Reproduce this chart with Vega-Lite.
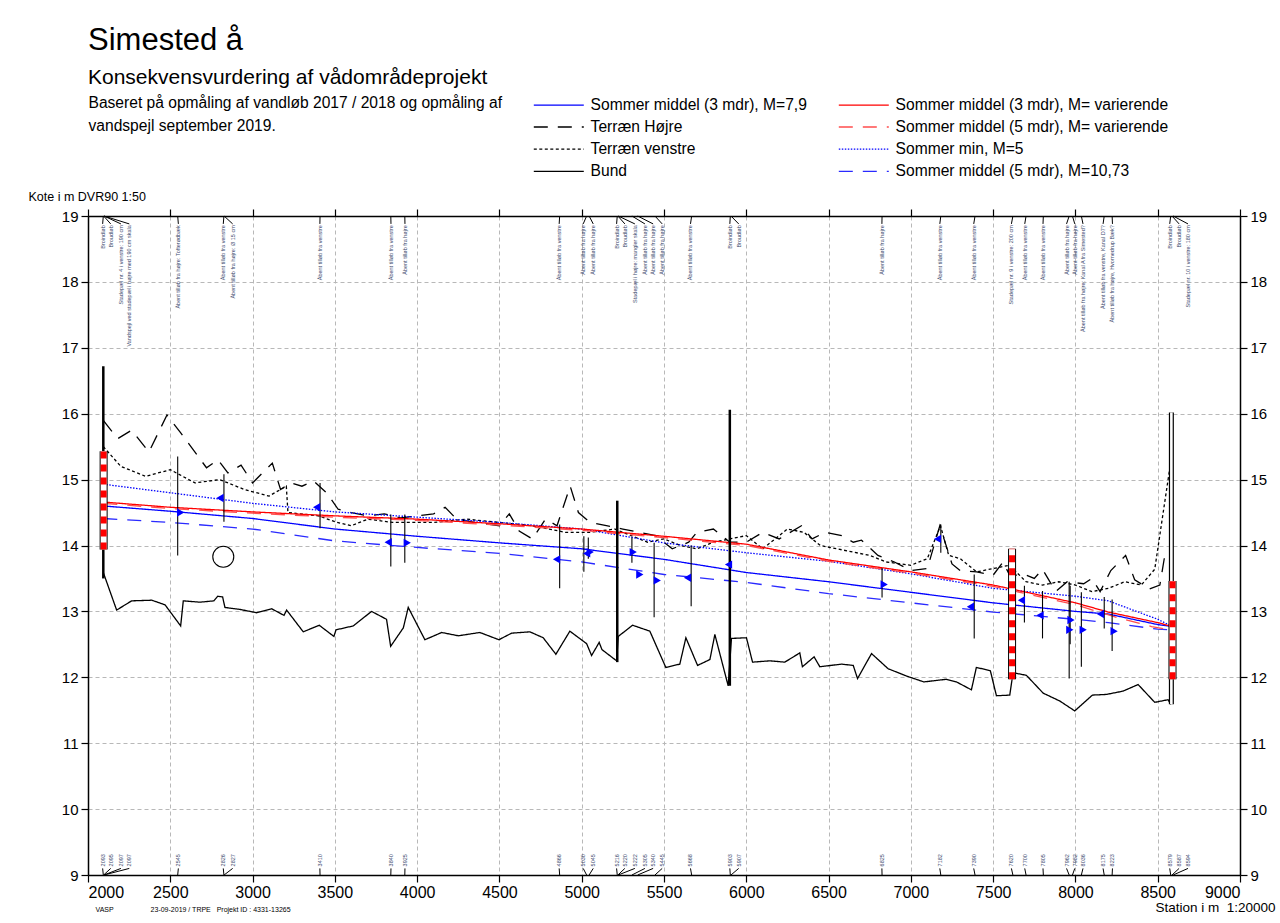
{
  "$schema": "https://vega.github.io/schema/vega-lite/v6.json",
  "width": 1152,
  "height": 659,
  "autosize": {"type": "none"},
  "padding": {"left": 88, "top": 216, "right": 40, "bottom": 48},
  "background": "white",
  "config": {
    "font": "Liberation Sans",
    "view": {"stroke": null},
    "axis": {"labelFont": "Liberation Sans", "titleFont": "Liberation Sans", "labelColor": "black", "titleColor": "black", "titleFontWeight": "normal"}
  },
  "title": {
    "text": "Simested å",
    "subtitle": "Konsekvensvurdering af vådområdeprojekt",
    "anchor": "start",
    "frame": "group",
    "fontSize": 31,
    "fontWeight": "normal",
    "color": "black",
    "subtitleFontSize": 21,
    "subtitleColor": "black",
    "subtitlePadding": 10,
    "offset": 6
  },
  "datasets": {
    "lines": [
      {"s": "Bund", "x": 2093, "y": 13.59}, {"s": "Bund", "x": 2174, "y": 13.02}, {"s": "Bund", "x": 2265, "y": 13.16}, {"s": "Bund", "x": 2387, "y": 13.17}, {"s": "Bund", "x": 2468, "y": 13.10}, {"s": "Bund", "x": 2563, "y": 12.78}, {"s": "Bund", "x": 2579, "y": 13.16}, {"s": "Bund", "x": 2680, "y": 13.14}, {"s": "Bund", "x": 2765, "y": 13.16}, {"s": "Bund", "x": 2788, "y": 13.23}, {"s": "Bund", "x": 2818, "y": 13.22}, {"s": "Bund", "x": 2832, "y": 13.06}, {"s": "Bund", "x": 2923, "y": 13.03}, {"s": "Bund", "x": 3025, "y": 12.98}, {"s": "Bund", "x": 3116, "y": 13.04}, {"s": "Bund", "x": 3191, "y": 12.94}, {"s": "Bund", "x": 3207, "y": 13.02}, {"s": "Bund", "x": 3308, "y": 12.69}, {"s": "Bund", "x": 3405, "y": 12.79}, {"s": "Bund", "x": 3494, "y": 12.62}, {"s": "Bund", "x": 3507, "y": 12.72}, {"s": "Bund", "x": 3612, "y": 12.78}, {"s": "Bund", "x": 3723, "y": 13.0}, {"s": "Bund", "x": 3814, "y": 12.88}, {"s": "Bund", "x": 3839, "y": 12.47}, {"s": "Bund", "x": 3916, "y": 12.75}, {"s": "Bund", "x": 3946, "y": 13.06}, {"s": "Bund", "x": 4047, "y": 12.57}, {"s": "Bund", "x": 4149, "y": 12.68}, {"s": "Bund", "x": 4250, "y": 12.63}, {"s": "Bund", "x": 4381, "y": 12.68}, {"s": "Bund", "x": 4497, "y": 12.57}, {"s": "Bund", "x": 4574, "y": 12.67}, {"s": "Bund", "x": 4685, "y": 12.69}, {"s": "Bund", "x": 4766, "y": 12.60}, {"s": "Bund", "x": 4843, "y": 12.35}, {"s": "Bund", "x": 4928, "y": 12.70}, {"s": "Bund", "x": 5030, "y": 12.51}, {"s": "Bund", "x": 5060, "y": 12.33}, {"s": "Bund", "x": 5106, "y": 12.53}, {"s": "Bund", "x": 5123, "y": 12.42}, {"s": "Bund", "x": 5212, "y": 12.25}, {"s": "Bund", "x": 5222, "y": 12.62}, {"s": "Bund", "x": 5309, "y": 12.79}, {"s": "Bund", "x": 5414, "y": 12.70}, {"s": "Bund", "x": 5511, "y": 12.15}, {"s": "Bund", "x": 5596, "y": 12.20}, {"s": "Bund", "x": 5633, "y": 12.60}, {"s": "Bund", "x": 5704, "y": 12.18}, {"s": "Bund", "x": 5779, "y": 12.27}, {"s": "Bund", "x": 5809, "y": 12.65}, {"s": "Bund", "x": 5890, "y": 11.87}, {"s": "Bund", "x": 5910, "y": 12.59}, {"s": "Bund", "x": 6001, "y": 12.60}, {"s": "Bund", "x": 6038, "y": 12.23}, {"s": "Bund", "x": 6143, "y": 12.25}, {"s": "Bund", "x": 6234, "y": 12.23}, {"s": "Bund", "x": 6325, "y": 12.37}, {"s": "Bund", "x": 6341, "y": 12.16}, {"s": "Bund", "x": 6412, "y": 12.31}, {"s": "Bund", "x": 6447, "y": 12.16}, {"s": "Bund", "x": 6579, "y": 12.20}, {"s": "Bund", "x": 6650, "y": 12.18}, {"s": "Bund", "x": 6676, "y": 11.98}, {"s": "Bund", "x": 6761, "y": 12.36}, {"s": "Bund", "x": 6862, "y": 12.13}, {"s": "Bund", "x": 6973, "y": 12.02}, {"s": "Bund", "x": 7079, "y": 11.93}, {"s": "Bund", "x": 7216, "y": 11.97}, {"s": "Bund", "x": 7277, "y": 11.93}, {"s": "Bund", "x": 7368, "y": 11.81}, {"s": "Bund", "x": 7398, "y": 12.15}, {"s": "Bund", "x": 7483, "y": 12.10}, {"s": "Bund", "x": 7520, "y": 11.72}, {"s": "Bund", "x": 7601, "y": 11.73}, {"s": "Bund", "x": 7621, "y": 12.07}, {"s": "Bund", "x": 7702, "y": 12.03}, {"s": "Bund", "x": 7804, "y": 11.76}, {"s": "Bund", "x": 7905, "y": 11.64}, {"s": "Bund", "x": 7996, "y": 11.49}, {"s": "Bund", "x": 8103, "y": 11.73}, {"s": "Bund", "x": 8188, "y": 11.74}, {"s": "Bund", "x": 8289, "y": 11.79}, {"s": "Bund", "x": 8381, "y": 11.89}, {"s": "Bund", "x": 8482, "y": 11.62}, {"s": "Bund", "x": 8563, "y": 11.66}, {"s": "Bund", "x": 8579, "y": 11.59},

      {"s": "Terræn Højre", "x": 2093, "y": 15.9}, {"s": "Terræn Højre", "x": 2180, "y": 15.62}, {"s": "Terræn Højre", "x": 2265, "y": 15.75}, {"s": "Terræn Højre", "x": 2370, "y": 15.42}, {"s": "Terræn Højre", "x": 2480, "y": 15.98}, {"s": "Terræn Højre", "x": 2560, "y": 15.72}, {"s": "Terræn Højre", "x": 2640, "y": 15.45}, {"s": "Terræn Højre", "x": 2720, "y": 15.18}, {"s": "Terræn Højre", "x": 2790, "y": 15.3}, {"s": "Terræn Højre", "x": 2850, "y": 15.1}, {"s": "Terræn Højre", "x": 2930, "y": 15.22}, {"s": "Terræn Højre", "x": 3000, "y": 14.95}, {"s": "Terræn Højre", "x": 3120, "y": 15.25}, {"s": "Terræn Højre", "x": 3170, "y": 14.85}, {"s": "Terræn Højre", "x": 3230, "y": 14.95}, {"s": "Terræn Højre", "x": 3300, "y": 14.9}, {"s": "Terræn Højre", "x": 3370, "y": 14.98}, {"s": "Terræn Højre", "x": 3450, "y": 14.8}, {"s": "Terræn Højre", "x": 3520, "y": 14.55}, {"s": "Terræn Højre", "x": 3600, "y": 14.5}, {"s": "Terræn Højre", "x": 3700, "y": 14.45}, {"s": "Terræn Højre", "x": 3800, "y": 14.48}, {"s": "Terræn Højre", "x": 3900, "y": 14.42}, {"s": "Terræn Højre", "x": 4000, "y": 14.45}, {"s": "Terræn Højre", "x": 4100, "y": 14.48}, {"s": "Terræn Højre", "x": 4170, "y": 14.58}, {"s": "Terræn Højre", "x": 4240, "y": 14.4}, {"s": "Terræn Højre", "x": 4350, "y": 14.35}, {"s": "Terræn Højre", "x": 4500, "y": 14.3}, {"s": "Terræn Højre", "x": 4560, "y": 14.48}, {"s": "Terræn Højre", "x": 4620, "y": 14.22}, {"s": "Terræn Højre", "x": 4700, "y": 14.1}, {"s": "Terræn Højre", "x": 4780, "y": 14.4}, {"s": "Terræn Højre", "x": 4850, "y": 14.3}, {"s": "Terræn Højre", "x": 4930, "y": 14.9}, {"s": "Terræn Højre", "x": 4980, "y": 14.5}, {"s": "Terræn Højre", "x": 5050, "y": 14.35}, {"s": "Terræn Højre", "x": 5150, "y": 14.3}, {"s": "Terræn Højre", "x": 5250, "y": 14.25}, {"s": "Terræn Højre", "x": 5350, "y": 14.2}, {"s": "Terræn Højre", "x": 5450, "y": 14.15}, {"s": "Terræn Højre", "x": 5550, "y": 13.95}, {"s": "Terræn Højre", "x": 5650, "y": 14.05}, {"s": "Terræn Højre", "x": 5700, "y": 14.2}, {"s": "Terræn Højre", "x": 5800, "y": 14.25}, {"s": "Terræn Højre", "x": 5900, "y": 14.05}, {"s": "Terræn Højre", "x": 6000, "y": 14.05}, {"s": "Terræn Højre", "x": 6100, "y": 14.2}, {"s": "Terræn Højre", "x": 6200, "y": 14.1}, {"s": "Terræn Højre", "x": 6335, "y": 14.3}, {"s": "Terræn Højre", "x": 6400, "y": 14.1}, {"s": "Terræn Højre", "x": 6480, "y": 14.2}, {"s": "Terræn Højre", "x": 6580, "y": 14.15}, {"s": "Terræn Højre", "x": 6650, "y": 14.05}, {"s": "Terræn Højre", "x": 6700, "y": 14.08}, {"s": "Terræn Højre", "x": 6800, "y": 13.85}, {"s": "Terræn Højre", "x": 6900, "y": 13.75}, {"s": "Terræn Højre", "x": 7000, "y": 13.62}, {"s": "Terræn Højre", "x": 7100, "y": 13.65}, {"s": "Terræn Højre", "x": 7176, "y": 14.3}, {"s": "Terræn Højre", "x": 7250, "y": 13.72}, {"s": "Terræn Højre", "x": 7300, "y": 13.62}, {"s": "Terræn Højre", "x": 7400, "y": 13.6}, {"s": "Terræn Højre", "x": 7500, "y": 13.55}, {"s": "Terræn Højre", "x": 7560, "y": 13.75}, {"s": "Terræn Højre", "x": 7600, "y": 13.55}, {"s": "Terræn Højre", "x": 7700, "y": 13.55}, {"s": "Terræn Højre", "x": 7750, "y": 13.5}, {"s": "Terræn Højre", "x": 7800, "y": 13.64}, {"s": "Terræn Højre", "x": 7880, "y": 13.3}, {"s": "Terræn Højre", "x": 7950, "y": 13.45}, {"s": "Terræn Højre", "x": 8050, "y": 13.42}, {"s": "Terræn Højre", "x": 8100, "y": 13.5}, {"s": "Terræn Højre", "x": 8150, "y": 13.3}, {"s": "Terræn Højre", "x": 8215, "y": 13.62}, {"s": "Terræn Højre", "x": 8305, "y": 13.85}, {"s": "Terræn Højre", "x": 8360, "y": 13.48}, {"s": "Terræn Højre", "x": 8450, "y": 13.34}, {"s": "Terræn Højre", "x": 8513, "y": 13.4}, {"s": "Terræn Højre", "x": 8543, "y": 13.85},

      {"s": "Terræn venstre", "x": 2093, "y": 15.5}, {"s": "Terræn venstre", "x": 2200, "y": 15.2}, {"s": "Terræn venstre", "x": 2350, "y": 15.05}, {"s": "Terræn venstre", "x": 2500, "y": 15.15}, {"s": "Terræn venstre", "x": 2650, "y": 14.95}, {"s": "Terræn venstre", "x": 2800, "y": 15.0}, {"s": "Terræn venstre", "x": 2950, "y": 14.85}, {"s": "Terræn venstre", "x": 3100, "y": 14.75}, {"s": "Terræn venstre", "x": 3205, "y": 14.9}, {"s": "Terræn venstre", "x": 3215, "y": 14.5}, {"s": "Terræn venstre", "x": 3400, "y": 14.45}, {"s": "Terræn venstre", "x": 3513, "y": 14.35}, {"s": "Terræn venstre", "x": 3600, "y": 14.3}, {"s": "Terræn venstre", "x": 3700, "y": 14.4}, {"s": "Terræn venstre", "x": 3850, "y": 14.35}, {"s": "Terræn venstre", "x": 3950, "y": 14.35}, {"s": "Terræn venstre", "x": 4100, "y": 14.35}, {"s": "Terræn venstre", "x": 4300, "y": 14.4}, {"s": "Terræn venstre", "x": 4500, "y": 14.35}, {"s": "Terræn venstre", "x": 4700, "y": 14.3}, {"s": "Terræn venstre", "x": 4900, "y": 14.2}, {"s": "Terræn venstre", "x": 5050, "y": 14.2}, {"s": "Terræn venstre", "x": 5200, "y": 14.25}, {"s": "Terræn venstre", "x": 5300, "y": 14.15}, {"s": "Terræn venstre", "x": 5400, "y": 14.05}, {"s": "Terræn venstre", "x": 5500, "y": 14.1}, {"s": "Terræn venstre", "x": 5600, "y": 14.0}, {"s": "Terræn venstre", "x": 5700, "y": 13.95}, {"s": "Terræn venstre", "x": 5800, "y": 14.05}, {"s": "Terræn venstre", "x": 5900, "y": 14.1}, {"s": "Terræn venstre", "x": 6000, "y": 14.15}, {"s": "Terræn venstre", "x": 6100, "y": 13.95}, {"s": "Terræn venstre", "x": 6250, "y": 14.25}, {"s": "Terræn venstre", "x": 6350, "y": 14.2}, {"s": "Terræn venstre", "x": 6450, "y": 14.0}, {"s": "Terræn venstre", "x": 6550, "y": 13.95}, {"s": "Terræn venstre", "x": 6650, "y": 13.9}, {"s": "Terræn venstre", "x": 6750, "y": 13.85}, {"s": "Terræn venstre", "x": 6850, "y": 13.75}, {"s": "Terræn venstre", "x": 7000, "y": 13.7}, {"s": "Terræn venstre", "x": 7100, "y": 13.8}, {"s": "Terræn venstre", "x": 7180, "y": 14.3}, {"s": "Terræn venstre", "x": 7230, "y": 13.85}, {"s": "Terræn venstre", "x": 7300, "y": 13.8}, {"s": "Terræn venstre", "x": 7400, "y": 13.6}, {"s": "Terræn venstre", "x": 7500, "y": 13.65}, {"s": "Terræn venstre", "x": 7600, "y": 13.7}, {"s": "Terræn venstre", "x": 7700, "y": 13.45}, {"s": "Terræn venstre", "x": 7800, "y": 13.4}, {"s": "Terræn venstre", "x": 7900, "y": 13.45}, {"s": "Terræn venstre", "x": 8000, "y": 13.4}, {"s": "Terræn venstre", "x": 8100, "y": 13.3}, {"s": "Terræn venstre", "x": 8200, "y": 13.35}, {"s": "Terræn venstre", "x": 8300, "y": 13.45}, {"s": "Terræn venstre", "x": 8400, "y": 13.4}, {"s": "Terræn venstre", "x": 8482, "y": 13.64}, {"s": "Terræn venstre", "x": 8575, "y": 15.2}, {"s": "Terræn venstre", "x": 8583, "y": 15.95},

      {"s": "Sommer middel (5 mdr), M=10,73", "x": 2093, "y": 14.41}, {"s": "Sommer middel (5 mdr), M=10,73", "x": 2500, "y": 14.35}, {"s": "Sommer middel (5 mdr), M=10,73", "x": 3000, "y": 14.25}, {"s": "Sommer middel (5 mdr), M=10,73", "x": 3500, "y": 14.07}, {"s": "Sommer middel (5 mdr), M=10,73", "x": 4000, "y": 13.97}, {"s": "Sommer middel (5 mdr), M=10,73", "x": 4500, "y": 13.88}, {"s": "Sommer middel (5 mdr), M=10,73", "x": 5000, "y": 13.75}, {"s": "Sommer middel (5 mdr), M=10,73", "x": 5500, "y": 13.56}, {"s": "Sommer middel (5 mdr), M=10,73", "x": 6000, "y": 13.44}, {"s": "Sommer middel (5 mdr), M=10,73", "x": 6500, "y": 13.27}, {"s": "Sommer middel (5 mdr), M=10,73", "x": 7000, "y": 13.13}, {"s": "Sommer middel (5 mdr), M=10,73", "x": 7500, "y": 12.99}, {"s": "Sommer middel (5 mdr), M=10,73", "x": 8000, "y": 12.88}, {"s": "Sommer middel (5 mdr), M=10,73", "x": 8200, "y": 12.83}, {"s": "Sommer middel (5 mdr), M=10,73", "x": 8500, "y": 12.73}, {"s": "Sommer middel (5 mdr), M=10,73", "x": 8590, "y": 12.72},

      {"s": "Sommer middel (3 mdr), M=7,9", "x": 2093, "y": 14.60}, {"s": "Sommer middel (3 mdr), M=7,9", "x": 2500, "y": 14.52}, {"s": "Sommer middel (3 mdr), M=7,9", "x": 3000, "y": 14.41}, {"s": "Sommer middel (3 mdr), M=7,9", "x": 3500, "y": 14.25}, {"s": "Sommer middel (3 mdr), M=7,9", "x": 4000, "y": 14.14}, {"s": "Sommer middel (3 mdr), M=7,9", "x": 4500, "y": 14.04}, {"s": "Sommer middel (3 mdr), M=7,9", "x": 5000, "y": 13.95}, {"s": "Sommer middel (3 mdr), M=7,9", "x": 5500, "y": 13.79}, {"s": "Sommer middel (3 mdr), M=7,9", "x": 6000, "y": 13.59}, {"s": "Sommer middel (3 mdr), M=7,9", "x": 6500, "y": 13.45}, {"s": "Sommer middel (3 mdr), M=7,9", "x": 7000, "y": 13.29}, {"s": "Sommer middel (3 mdr), M=7,9", "x": 7500, "y": 13.13}, {"s": "Sommer middel (3 mdr), M=7,9", "x": 8000, "y": 13.0}, {"s": "Sommer middel (3 mdr), M=7,9", "x": 8200, "y": 12.96}, {"s": "Sommer middel (3 mdr), M=7,9", "x": 8500, "y": 12.80}, {"s": "Sommer middel (3 mdr), M=7,9", "x": 8590, "y": 12.77},

      {"s": "Sommer min, M=5", "x": 2093, "y": 14.93}, {"s": "Sommer min, M=5", "x": 2500, "y": 14.80}, {"s": "Sommer min, M=5", "x": 3000, "y": 14.64}, {"s": "Sommer min, M=5", "x": 3500, "y": 14.51}, {"s": "Sommer min, M=5", "x": 4000, "y": 14.43}, {"s": "Sommer min, M=5", "x": 4500, "y": 14.35}, {"s": "Sommer min, M=5", "x": 5000, "y": 14.25}, {"s": "Sommer min, M=5", "x": 5500, "y": 14.04}, {"s": "Sommer min, M=5", "x": 6000, "y": 13.89}, {"s": "Sommer min, M=5", "x": 6500, "y": 13.76}, {"s": "Sommer min, M=5", "x": 7000, "y": 13.57}, {"s": "Sommer min, M=5", "x": 7500, "y": 13.35}, {"s": "Sommer min, M=5", "x": 8000, "y": 13.23}, {"s": "Sommer min, M=5", "x": 8200, "y": 13.16}, {"s": "Sommer min, M=5", "x": 8500, "y": 12.88}, {"s": "Sommer min, M=5", "x": 8590, "y": 12.77},

      {"s": "Sommer middel (5 mdr), M= varierende", "x": 2093, "y": 14.64}, {"s": "Sommer middel (5 mdr), M= varierende", "x": 2500, "y": 14.56}, {"s": "Sommer middel (5 mdr), M= varierende", "x": 3000, "y": 14.49}, {"s": "Sommer middel (5 mdr), M= varierende", "x": 3500, "y": 14.43}, {"s": "Sommer middel (5 mdr), M= varierende", "x": 4000, "y": 14.38}, {"s": "Sommer middel (5 mdr), M= varierende", "x": 4500, "y": 14.31}, {"s": "Sommer middel (5 mdr), M= varierende", "x": 5000, "y": 14.23}, {"s": "Sommer middel (5 mdr), M= varierende", "x": 5500, "y": 14.12}, {"s": "Sommer middel (5 mdr), M= varierende", "x": 6000, "y": 14.0}, {"s": "Sommer middel (5 mdr), M= varierende", "x": 6500, "y": 13.76}, {"s": "Sommer middel (5 mdr), M= varierende", "x": 7000, "y": 13.58}, {"s": "Sommer middel (5 mdr), M= varierende", "x": 7500, "y": 13.38}, {"s": "Sommer middel (5 mdr), M= varierende", "x": 8000, "y": 13.1}, {"s": "Sommer middel (5 mdr), M= varierende", "x": 8250, "y": 12.91}, {"s": "Sommer middel (5 mdr), M= varierende", "x": 8463, "y": 12.77}, {"s": "Sommer middel (5 mdr), M= varierende", "x": 8590, "y": 12.71},

      {"s": "Sommer middel (3 mdr), M= varierende", "x": 2093, "y": 14.66}, {"s": "Sommer middel (3 mdr), M= varierende", "x": 2500, "y": 14.58}, {"s": "Sommer middel (3 mdr), M= varierende", "x": 3000, "y": 14.51}, {"s": "Sommer middel (3 mdr), M= varierende", "x": 3500, "y": 14.45}, {"s": "Sommer middel (3 mdr), M= varierende", "x": 4000, "y": 14.40}, {"s": "Sommer middel (3 mdr), M= varierende", "x": 4500, "y": 14.33}, {"s": "Sommer middel (3 mdr), M= varierende", "x": 5000, "y": 14.25}, {"s": "Sommer middel (3 mdr), M= varierende", "x": 5500, "y": 14.14}, {"s": "Sommer middel (3 mdr), M= varierende", "x": 6000, "y": 14.02}, {"s": "Sommer middel (3 mdr), M= varierende", "x": 6500, "y": 13.78}, {"s": "Sommer middel (3 mdr), M= varierende", "x": 7000, "y": 13.60}, {"s": "Sommer middel (3 mdr), M= varierende", "x": 7500, "y": 13.40}, {"s": "Sommer middel (3 mdr), M= varierende", "x": 8000, "y": 13.13}, {"s": "Sommer middel (3 mdr), M= varierende", "x": 8200, "y": 12.99}, {"s": "Sommer middel (3 mdr), M= varierende", "x": 8500, "y": 12.83}, {"s": "Sommer middel (3 mdr), M= varierende", "x": 8590, "y": 12.77}
    ],
    "structures": [
      {"x": 2093, "y": 13.5, "y2": 16.72, "k": "bro"},
      {"x": 2545, "y": 13.85, "y2": 15.35, "k": "tilløb"},
      {"x": 2826, "y": 14.36, "y2": 15.08, "k": "tilløb"},
      {"x": 3410, "y": 14.26, "y2": 14.95, "k": "tilløb"},
      {"x": 3840, "y": 13.68, "y2": 14.47, "k": "tilløb"},
      {"x": 3925, "y": 13.74, "y2": 14.47, "k": "tilløb"},
      {"x": 4866, "y": 13.35, "y2": 14.32, "k": "tilløb"},
      {"x": 5013, "y": 13.6, "y2": 14.14, "k": "tilløb"},
      {"x": 5040, "y": 13.8, "y2": 14.12, "k": "tilløb"},
      {"x": 5216, "y": 12.23, "y2": 14.68, "k": "bro"},
      {"x": 5305, "y": 13.74, "y2": 14.12, "k": "tilløb"},
      {"x": 5440, "y": 12.91, "y2": 14.04, "k": "tilløb"},
      {"x": 5665, "y": 13.08, "y2": 14.0, "k": "tilløb"},
      {"x": 5900, "y": 11.87, "y2": 16.06, "k": "bro"},
      {"x": 6825, "y": 13.21, "y2": 13.66, "k": "tilløb"},
      {"x": 7182, "y": 13.89, "y2": 14.32, "k": "tilløb"},
      {"x": 7385, "y": 12.59, "y2": 13.56, "k": "tilløb"},
      {"x": 7690, "y": 12.83, "y2": 13.39, "k": "tilløb"},
      {"x": 7800, "y": 12.59, "y2": 13.31, "k": "tilløb"},
      {"x": 7962, "y": 11.98, "y2": 13.45, "k": "tilløb"},
      {"x": 7968, "y": 12.5, "y2": 13.39, "k": "tilløb"},
      {"x": 8036, "y": 12.16, "y2": 13.29, "k": "tilløb"},
      {"x": 8175, "y": 12.74, "y2": 13.22, "k": "tilløb"},
      {"x": 8223, "y": 12.4, "y2": 13.18, "k": "tilløb"}
    ],
    "bro8583": [{"x": 8583, "y": 11.59, "y2": 16.02}],
    "gauges": [
      {"x": 2095, "y": 13.94, "y2": 15.43},
      {"x": 7615, "y": 11.97, "y2": 13.95},
      {"x": 8590, "y": 11.97, "y2": 13.46}
    ],
    "levels": [
      {"x": 2563, "y": 14.50, "d": "højre"}, {"x": 2802, "y": 14.72, "d": "venstre"}, {"x": 3389, "y": 14.58, "d": "venstre"}, {"x": 3824, "y": 14.05, "d": "venstre"}, {"x": 3940, "y": 14.04, "d": "højre"}, {"x": 4847, "y": 13.79, "d": "venstre"}, {"x": 5030, "y": 13.88, "d": "venstre"}, {"x": 5052, "y": 13.9, "d": "højre"}, {"x": 5313, "y": 13.90, "d": "højre"}, {"x": 5353, "y": 13.56, "d": "højre"}, {"x": 5459, "y": 13.47, "d": "højre"}, {"x": 5643, "y": 13.51, "d": "venstre"}, {"x": 5892, "y": 13.71, "d": "venstre"}, {"x": 6838, "y": 13.41, "d": "højre"}, {"x": 7162, "y": 14.10, "d": "venstre"}, {"x": 7362, "y": 13.07, "d": "venstre"}, {"x": 7672, "y": 13.17, "d": "venstre"}, {"x": 7785, "y": 12.94, "d": "venstre"}, {"x": 7973, "y": 12.87, "d": "højre"}, {"x": 7966, "y": 12.72, "d": "højre"}, {"x": 8047, "y": 12.72, "d": "højre"}, {"x": 8152, "y": 12.96, "d": "venstre"}, {"x": 8235, "y": 12.70, "d": "højre"}
    ],
    "circle": [{"x": 2822, "y": 13.83}],
    "anno": [
      {"st": 2093, "lx": 2089, "txt": "Broindløb", "nr": "2093"},
      {"st": 2095, "lx": 2138, "txt": "Broudløb", "nr": "2095"},
      {"st": 2097, "lx": 2200, "txt": "Stadepæl nr. 4 i venstre: 190 cm", "nr": "2097"},
      {"st": 2097, "lx": 2251, "txt": "Vandspejl ved stadepæl i højre med 190 cm skala", "nr": "2097"},
      {"st": 2545, "lx": 2549, "txt": "Åbent tilløb fra højre: Tofterødbæk", "nr": "2545"},
      {"st": 2826, "lx": 2822, "txt": "Åbent tilløb fra venstre", "nr": "2826"},
      {"st": 2827, "lx": 2879, "txt": "Åbent tilløb fra højre: Ø 15 cm", "nr": "2827"},
      {"st": 3410, "lx": 3409, "txt": "Åbent tilløb fra venstre", "nr": "3410"},
      {"st": 3840, "lx": 3841, "txt": "Åbent tilløb fra venstre", "nr": "3840"},
      {"st": 3925, "lx": 3926, "txt": "Åbent tilløb fra højre", "nr": "3925"},
      {"st": 4866, "lx": 4863, "txt": "Åbent tilløb fra venstre", "nr": "4866"},
      {"st": 5030, "lx": 5009, "txt": "Åbent tilløb fra højre", "nr": "5030"},
      {"st": 5045, "lx": 5070, "txt": "Åbent tilløb fra højre", "nr": "5045"},
      {"st": 5216, "lx": 5212, "txt": "Broindløb", "nr": "5216"},
      {"st": 5220, "lx": 5262, "txt": "Broudløb", "nr": "5220"},
      {"st": 5222, "lx": 5323, "txt": "Stadepæl i højre: mangler skala", "nr": "5222"},
      {"st": 5305, "lx": 5384, "txt": "Åbent tilløb fra højre", "nr": "5305"},
      {"st": 5340, "lx": 5434, "txt": "Åbent tilløb fra højre", "nr": "5340"},
      {"st": 5445, "lx": 5489, "txt": "Åbent tilløb fra højre", "nr": "5445"},
      {"st": 5668, "lx": 5661, "txt": "Åbent tilløb fra venstre", "nr": "5668"},
      {"st": 5903, "lx": 5900, "txt": "Broindløb", "nr": "5903"},
      {"st": 5907, "lx": 5954, "txt": "Broudløb", "nr": "5907"},
      {"st": 6825, "lx": 6824, "txt": "Åbent tilløb fra højre", "nr": "6825"},
      {"st": 7182, "lx": 7176, "txt": "Åbent tilløb fra venstre", "nr": "7182"},
      {"st": 7390, "lx": 7382, "txt": "Åbent tilløb fra venstre", "nr": "7390"},
      {"st": 7620, "lx": 7611, "txt": "Stadepæl nr. 9 i venstre: 200 cm", "nr": "7620"},
      {"st": 7700, "lx": 7692, "txt": "Åbent tilløb fra venstre", "nr": "7700"},
      {"st": 7805, "lx": 7803, "txt": "Åbent tilløb fra venstre", "nr": "7805"},
      {"st": 7962, "lx": 7946, "txt": "Åbent tilløb fra højre", "nr": "7962"},
      {"st": 7982, "lx": 7996, "txt": "Åbent tilløb fra højre", "nr": "7982"},
      {"st": 8036, "lx": 8046, "txt": "Åbent tilløb fra højre: Kanal A fra Simested?", "nr": "8036"},
      {"st": 8175, "lx": 8168, "txt": "Åbent tilløb fra venstre, Kanal D7?", "nr": "8175"},
      {"st": 8223, "lx": 8225, "txt": "Åbent tilløb fra højre, Hvornedrup Bæk?", "nr": "8223"},
      {"st": 8579, "lx": 8573, "txt": "Broindløb", "nr": "8579"},
      {"st": 8587, "lx": 8630, "txt": "Broudløb", "nr": "8587"},
      {"st": 8594, "lx": 8684, "txt": "Stadepæl nr. 10 i venstre: 180 cm", "nr": "8594"}
    ]
  },
  "resolve": {"axis": {"x": "independent", "y": "independent"}},
  "layer": [
    {
      "data": {"name": "lines"},
      "mark": {"type": "line", "strokeWidth": 1.3},
      "encoding": {
        "x": {"field": "x", "type": "quantitative",
          "scale": {"domain": [2000, 9000], "nice": false, "zero": false},
          "axis": {"orient": "bottom", "values": [2000, 2500, 3000, 3500, 4000, 4500, 5000, 5500, 6000, 6500, 7000, 7500, 8000, 8500, 9000],
            "grid": true, "gridDash": [4, 3], "gridColor": "#b8b8b8", "gridWidth": 1,
            "domainColor": "black", "domainWidth": 1.5, "tickColor": "black", "tickSize": 7, "tickWidth": 1.2,
            "labelFontSize": 16, "labelPadding": 2, "format": "d",
            "title": "Station\u00a0i\u00a0m\u00a0\u00a01:20000", "titleFontSize": 13.5, "titleX": 1067, "titleY": 36, "titleAlign": "left", "titleAnchor": "start", "titleBaseline": "alphabetic"}},
        "y": {"field": "y", "type": "quantitative",
          "scale": {"domain": [9, 19], "nice": false, "zero": false},
          "axis": {"orient": "left", "values": [9, 10, 11, 12, 13, 14, 15, 16, 17, 18, 19],
            "grid": true, "gridDash": [4, 3], "gridColor": "#b8b8b8", "gridWidth": 1,
            "domainColor": "black", "domainWidth": 1.5, "tickColor": "black", "tickSize": 7, "tickWidth": 1.2,
            "labelFontSize": 15, "labelPadding": 3,
            "title": "Kote i m DVR90 1:50", "titleFontSize": 12.5, "titleAngle": 0, "titleX": -60, "titleY": -16, "titleAlign": "left", "titleBaseline": "alphabetic"}},
        "color": {"field": "s", "type": "nominal",
          "scale": {
            "domain": ["Sommer middel (3 mdr), M=7,9", "Terræn Højre", "Terræn venstre", "Bund", "Sommer middel (3 mdr), M= varierende", "Sommer middel (5 mdr), M= varierende", "Sommer min, M=5", "Sommer middel (5 mdr), M=10,73"],
            "range": ["#0000ff", "#000000", "#000000", "#000000", "#ff0000", "#ff4d4d", "#0000ff", "#2a2aff"]},
          "legend": {"orient": "none", "legendX": 463, "legendY": -119, "direction": "vertical", "columns": 2, "columnPadding": 29, "rowPadding": 5.2,
            "symbolType": "M-5,0H5", "symbolSize": 100, "symbolStrokeWidth": 1.3, "labelFontSize": 15.6, "labelOffset": 24, "labelColor": "black", "labelLimit": 400, "title": null}},
        "strokeDash": {"field": "s", "type": "nominal",
          "scale": {
            "domain": ["Sommer middel (3 mdr), M=7,9", "Terræn Højre", "Terræn venstre", "Bund", "Sommer middel (3 mdr), M= varierende", "Sommer middel (5 mdr), M= varierende", "Sommer min, M=5", "Sommer middel (5 mdr), M=10,73"],
            "range": [[1, 0], [14, 10], [3, 2.5], [1, 0], [1, 0], [14, 10], [1.5, 1.5], [14, 10]]},
          "legend": {"orient": "none", "legendX": 463, "legendY": -119, "direction": "vertical", "columns": 2, "columnPadding": 29, "rowPadding": 5.2,
            "symbolType": "M-5,0H5", "symbolSize": 100, "symbolStrokeWidth": 1.3, "labelFontSize": 15.6, "labelOffset": 24, "labelColor": "black", "labelLimit": 400, "title": null}}
      }
    },
    {
      "data": {"name": "structures"},
      "mark": {"type": "rule", "color": "black"},
      "encoding": {
        "x": {"field": "x", "type": "quantitative",
          "axis": {"orient": "top", "values": [2000, 2500, 3000, 3500, 4000, 4500, 5000, 5500, 6000, 6500, 7000, 7500, 8000, 8500, 9000],
            "grid": false, "labels": false, "domainColor": "black", "domainWidth": 1.5, "tickColor": "black", "tickSize": 7, "tickWidth": 1.2,
            "title": ["Baseret på opmåling af vandløb 2017 / 2018 og opmåling af", "vandspejl september 2019."],
            "titleFontSize": 15.6, "titleLineHeight": 23, "titleX": 0, "titleY": -121, "titleAlign": "left", "titleAnchor": "start", "titleBaseline": "top"}},
        "y": {"field": "y", "type": "quantitative",
          "axis": {"orient": "right", "values": [9, 10, 11, 12, 13, 14, 15, 16, 17, 18, 19],
            "grid": false, "domainColor": "black", "domainWidth": 1.5, "tickColor": "black", "tickSize": 7, "tickWidth": 1.2,
            "labelFontSize": 15, "labelPadding": 3,
            "title": "VASP\u00a0\u00a0\u00a0\u00a0\u00a0\u00a0\u00a0\u00a0\u00a0\u00a0\u00a0\u00a0\u00a0\u00a0\u00a0\u00a0\u00a0\u00a0\u00a023-09-2019 / TRPE\u00a0\u00a0 Projekt ID : 4331-13265", "titleFontSize": 7, "titleAngle": 0, "titleX": -1145, "titleY": 695, "titleAlign": "left", "titleBaseline": "alphabetic"}},
        "y2": {"field": "y2"},
        "strokeWidth": {"field": "k", "type": "nominal", "scale": {"domain": ["bro", "tilløb"], "range": [2.5, 1.1]}, "legend": null}
      }
    },
    {
      "data": {"name": "bro8583"},
      "mark": {"type": "rule", "color": "black", "strokeWidth": 5},
      "encoding": {
        "x": {"field": "x", "type": "quantitative", "axis": null},
        "y": {"field": "y", "type": "quantitative", "axis": null},
        "y2": {"field": "y2"}
      }
    },
    {
      "data": {"name": "bro8583"},
      "mark": {"type": "rule", "color": "white", "strokeWidth": 2.6},
      "encoding": {
        "x": {"field": "x", "type": "quantitative", "axis": null},
        "y": {"field": "y", "type": "quantitative", "axis": null},
        "y2": {"field": "y2"}
      }
    },
    {
      "data": {"name": "gauges"},
      "mark": {"type": "rule", "color": "black", "strokeWidth": 8},
      "encoding": {
        "x": {"field": "x", "type": "quantitative", "axis": null},
        "y": {"field": "y", "type": "quantitative", "axis": null},
        "y2": {"field": "y2"}
      }
    },
    {
      "data": {"name": "gauges"},
      "mark": {"type": "rule", "color": "white", "strokeWidth": 6},
      "encoding": {
        "x": {"field": "x", "type": "quantitative", "axis": null},
        "y": {"field": "y", "type": "quantitative", "axis": null},
        "y2": {"field": "y2"}
      }
    },
    {
      "data": {"name": "gauges"},
      "mark": {"type": "rule", "color": "#ff0000", "strokeWidth": 6, "strokeDash": [7, 6]},
      "encoding": {
        "x": {"field": "x", "type": "quantitative", "axis": null},
        "y": {"field": "y", "type": "quantitative", "axis": null},
        "y2": {"field": "y2"}
      }
    },
    {
      "data": {"name": "levels"},
      "mark": {"type": "point", "filled": true, "color": "#0000ff", "size": 70, "opacity": 1},
      "encoding": {
        "x": {"field": "x", "type": "quantitative", "axis": null},
        "y": {"field": "y", "type": "quantitative", "axis": null},
        "shape": {"field": "d", "type": "nominal", "scale": {"domain": ["venstre", "højre"], "range": ["triangle-left", "triangle-right"]}, "legend": null}
      }
    },
    {
      "data": {"name": "circle"},
      "mark": {"type": "point", "shape": "circle", "filled": false, "color": "black", "size": 441, "strokeWidth": 1.1, "opacity": 1},
      "encoding": {
        "x": {"field": "x", "type": "quantitative", "axis": null},
        "y": {"field": "y", "type": "quantitative", "axis": null}
      }
    },
    {
      "data": {"name": "anno"},
      "mark": {"type": "rule", "color": "black", "strokeWidth": 1},
      "encoding": {
        "x": {"field": "st", "type": "quantitative", "axis": null},
        "x2": {"field": "lx"},
        "y": {"datum": 19, "type": "quantitative", "axis": null},
        "y2": {"datum": 18.88}
      }
    },
    {
      "data": {"name": "anno"},
      "mark": {"type": "rule", "color": "black", "strokeWidth": 1},
      "encoding": {
        "x": {"field": "st", "type": "quantitative", "axis": null},
        "x2": {"field": "lx"},
        "y": {"datum": 9, "type": "quantitative", "axis": null},
        "y2": {"datum": 9.1}
      }
    },
    {
      "data": {"name": "anno"},
      "mark": {"type": "text", "angle": 270, "align": "right", "baseline": "middle", "fontSize": 5.5, "color": "#3c4a6e"},
      "encoding": {
        "x": {"field": "lx", "type": "quantitative", "axis": null},
        "y": {"datum": 18.86, "type": "quantitative", "axis": null},
        "text": {"field": "txt"}
      }
    },
    {
      "data": {"name": "anno"},
      "mark": {"type": "text", "angle": 270, "align": "left", "baseline": "middle", "fontSize": 5.5, "color": "#3c4a6e"},
      "encoding": {
        "x": {"field": "lx", "type": "quantitative", "axis": null},
        "y": {"datum": 9.13, "type": "quantitative", "axis": null},
        "text": {"field": "nr"}
      }
    }
  ]
}
